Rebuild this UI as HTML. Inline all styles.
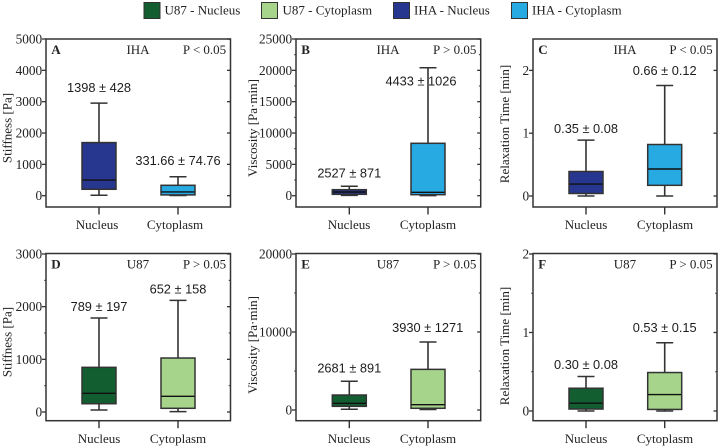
<!DOCTYPE html>
<html lang="en">
<head>
<meta charset="utf-8">
<title>Stiffness, viscosity and relaxation time box plots</title>
<style>
html,body{margin:0;padding:0;background:#fff;width:720px;height:448px;overflow:hidden}
svg{display:block;filter:blur(.3px)}
text{font-family:"Liberation Serif",serif;fill:#222}
.val{font-family:"Liberation Sans",sans-serif;font-size:12.8px;fill:#1c1c1c}
</style>
</head>
<body>
<svg id="chart" width="720" height="448" viewBox="0 0 720 448" xmlns="http://www.w3.org/2000/svg">
  <g>
    <g>
      <rect x="144" y="2.5" width="16" height="16" fill="#125e30" stroke="#333" stroke-width="1"/>
      <text x="164.5" y="14.5" font-size="13">U87 - Nucleus</text>
    </g>
    <g>
      <rect x="261.5" y="2.5" width="16" height="16" fill="#a6d48a" stroke="#333" stroke-width="1"/>
      <text x="282.5" y="14.5" font-size="13">U87 - Cytoplasm</text>
    </g>
    <g>
      <rect x="393.5" y="2.5" width="16" height="16" fill="#27378f" stroke="#333" stroke-width="1"/>
      <text x="414" y="14.5" font-size="13">IHA - Nucleus</text>
    </g>
    <g>
      <rect x="511.5" y="2.5" width="16" height="16" fill="#27a9e1" stroke="#333" stroke-width="1"/>
      <text x="532" y="14.5" font-size="13">IHA - Cytoplasm</text>
    </g>
  </g>
</svg>
<script>
// Data: each box is [whisker high, q3, median, q1, whisker low]
const categories = ['Nucleus', 'Cytoplasm'];

const stiffnessIhaNucleus = [2955, 1695, 500, 205, 15];
const stiffnessIhaCytoplasm = [605, 332, 120, 25, 5];
const viscosityIhaNucleus = [1500, 960, 590, 220, 60];
const viscosityIhaCytoplasm = [20420, 8360, 540, 160, 20];
const relaxationIhaNucleus = [0.89, 0.39, 0.19, 0.04, 0];
const relaxationIhaCytoplasm = [1.76, 0.82, 0.43, 0.17, 0];
const stiffnessU87Nucleus = [1784, 848, 355, 157, 38];
const stiffnessU87Cytoplasm = [2120, 1025, 298, 70, 6];
const viscosityU87Nucleus = [3680, 1920, 860, 470, 90];
const viscosityU87Cytoplasm = [8720, 5210, 680, 220, 60];
const relaxationU87Nucleus = [0.44, 0.29, 0.10, 0.025, 0];
const relaxationU87Cytoplasm = [0.87, 0.49, 0.21, 0.02, 0];

const stiffnessIhaLabels = ['1398 ± 428', '331.66 ± 74.76'];
const viscosityIhaLabels = ['2527 ± 871', '4433 ± 1026'];
const relaxationIhaLabels = ['0.35 ± 0.08', '0.66 ± 0.12'];
const stiffnessU87Labels = ['789 ± 197', '652 ± 158'];
const viscosityU87Labels = ['2681 ± 891', '3930 ± 1271'];
const relaxationU87Labels = ['0.30 ± 0.08', '0.53 ± 0.15'];

const stiffnessIhaTicks = [0, 1000, 2000, 3000, 4000, 5000];
const viscosityIhaTicks = [0, 5000, 10000, 15000, 20000, 25000];
const relaxationIhaTicks = [0, 1, 2];
const stiffnessU87Ticks = [0, 1000, 2000, 3000];
const viscosityU87Ticks = [0, 10000, 20000];
const relaxationU87Ticks = [0, 1, 2];

const viscosityIhaMinor = [2500, 7500, 12500, 17500, 22500];
const stiffnessU87Minor = [500, 1500, 2500];
const viscosityU87Minor = [5000, 15000];
const relaxationU87Minor = [0.5, 1.5];

const NS = 'http://www.w3.org/2000/svg';
const svg = document.getElementById('chart');
const INK = '#333333';
const MEDIAN = '#101010';
const IHA_FILLS = ['#27378f', '#27a9e1'];
const U87_FILLS = ['#125e30', '#a6d48a'];

const panels = [
  {id:'a', letter:'A', cell:'IHA', p:'P < 0.05', title:'Stiffness [Pa]', left:46, right:230.5, top:39, bottom:207, y0:195.7, yMax:5000, yTop:39,
   boxes:[stiffnessIhaNucleus, stiffnessIhaCytoplasm], labels:stiffnessIhaLabels, ticks:stiffnessIhaTicks, minor:[], fills:IHA_FILLS,
   cx:[99,178], catX:[97,175], catY:229, lx:[99,178], gap:[11,11.5], titleX:11.5, titleY:128, cellX:138},
  {id:'b', letter:'B', cell:'IHA', p:'P > 0.05', title:'Viscosity [Pa·min]', left:296, right:480.7, top:39, bottom:207, y0:195.7, yMax:25000, yTop:39,
   boxes:[viscosityIhaNucleus, viscosityIhaCytoplasm], labels:viscosityIhaLabels, ticks:viscosityIhaTicks, minor:viscosityIhaMinor, fills:IHA_FILLS,
   cx:[349.3,428], catX:[349,428], catY:229, lx:[349.3,421], gap:[9,-18], titleX:257, titleY:128, cellX:388},
  {id:'c', letter:'C', cell:'IHA', p:'P < 0.05', title:'Relaxation Time [min]', left:533, right:717, top:39, bottom:207, y0:196, yMax:2.5, yTop:39,
   boxes:[relaxationIhaNucleus, relaxationIhaCytoplasm], labels:relaxationIhaLabels, ticks:relaxationIhaTicks, minor:[], fills:IHA_FILLS,
   cx:[586,664.7], catX:[586,665], catY:229, lx:[586,664.7], gap:[7,10.5], titleX:509, titleY:124, cellX:625},
  {id:'d', letter:'D', cell:'U87', p:'P > 0.05', title:'Stiffness [Pa]', left:46, right:230.5, top:253.5, bottom:420.7, y0:412, yMax:3000, yTop:254,
   boxes:[stiffnessU87Nucleus, stiffnessU87Cytoplasm], labels:stiffnessU87Labels, ticks:stiffnessU87Ticks, minor:stiffnessU87Minor, fills:U87_FILLS,
   cx:[99,178], catX:[99,178], catY:443, lx:[99,178], gap:[7,7], titleX:11.5, titleY:342, cellX:138},
  {id:'e', letter:'E', cell:'U87', p:'P > 0.05', title:'Viscosity [Pa·min]', left:296, right:480.7, top:253.5, bottom:420.7, y0:410, yMax:20000, yTop:254,
   boxes:[viscosityU87Nucleus, viscosityU87Cytoplasm], labels:viscosityU87Labels, ticks:viscosityU87Ticks, minor:viscosityU87Minor, fills:U87_FILLS,
   cx:[349.3,428], catX:[349,428], catY:443, lx:[349.3,427.7], gap:[9,10], titleX:257, titleY:345, cellX:388},
  {id:'f', letter:'F', cell:'U87', p:'P > 0.05', title:'Relaxation Time [min]', left:533, right:717, top:253.5, bottom:420.7, y0:411, yMax:2, yTop:254,
   boxes:[relaxationU87Nucleus, relaxationU87Cytoplasm], labels:relaxationU87Labels, ticks:relaxationU87Ticks, minor:relaxationU87Minor, fills:U87_FILLS,
   cx:[586,664.7], catX:[586,665], catY:443, lx:[586,664.7], gap:[7.5,10.5], titleX:509, titleY:346, cellX:625}
];

function mk(tag, parent, attrs) {
  const el = document.createElementNS(NS, tag);
  for (const k in attrs) el.setAttribute(k, attrs[k]);
  parent.appendChild(el);
  return el;
}
function seg(parent, x1, y1, x2, y2, w) {
  return mk('line', parent, {x1:x1, y1:y1, x2:x2, y2:y2, stroke:INK, 'stroke-width':w});
}
function txt(parent, x, y, str, size, anchor) {
  const el = mk('text', parent, {x:x, y:y, 'font-size':size, 'text-anchor':anchor});
  el.textContent = str;
  return el;
}

panels.forEach(function (pn) {
  const yScale = function (v) { return pn.y0 - (pn.y0 - pn.yTop) * v / pn.yMax; };

  const g = mk('g', svg, {});
  
  

  // y ticks
  pn.ticks.forEach(function (t) {
    const y = yScale(t);
    const left = seg(g, pn.left - 4, y, pn.left, y, 1.3);
    
    
    const right = seg(g, pn.right - 3.5, y, pn.right, y, 1.3);
    
    
    const lab = txt(g, pn.left - 3.8, y + 4.5, String(t), 13.3, 'end');
    
    
  });
  pn.minor.forEach(function (t) {
    const y = yScale(t);
    const left = seg(g, pn.left - 1.8, y, pn.left, y, 1);
    
    
    const right = seg(g, pn.right - 1.8, y, pn.right, y, 1);
    
    
  });

  // plot frame
  const frame = mk('rect', g, {x:pn.left, y:pn.top, width:pn.right - pn.left, height:pn.bottom - pn.top, fill:'none', stroke:INK, 'stroke-width':1.5});
  
  

  // boxes
  pn.boxes.forEach(function (b, i) {
    const cx = pn.cx[i];
    const cat = categories[i].toLowerCase();
    const bg = mk('g', g, {});
    
    

    const whisker = seg(bg, cx, yScale(b[0]), cx, yScale(b[4]), 1.6);
    
    
    const capHigh = seg(bg, cx - 8.5, yScale(b[0]), cx + 8.5, yScale(b[0]), 1.5);
    
    
    const capLow = seg(bg, cx - 8.5, yScale(b[4]), cx + 8.5, yScale(b[4]), 1.5);
    
    

    const body = mk('rect', bg, {x:cx - 17, y:yScale(b[1]), width:34, height:yScale(b[3]) - yScale(b[1]), fill:pn.fills[i], stroke:INK, 'stroke-width':1.5});
    
    
    const med = mk('line', bg, {x1:cx - 16.5, y1:yScale(b[2]), x2:cx + 16.5, y2:yScale(b[2]), stroke:MEDIAN, 'stroke-width':1.4});
    
    

    const val = txt(g, pn.lx[i], yScale(b[0]) - pn.gap[i], pn.labels[i], 13, 'middle');
    val.setAttribute('class', 'val');
    
    

    const tick = seg(g, cx, pn.bottom, cx, pn.bottom + 7.5, 1.4);
    
    
    const catLab = txt(g, pn.catX[i], pn.catY, categories[i], 13, 'middle');
    
    
  });

  // annotations
  const base = pn.top + 15;
  const letter = txt(g, pn.left + 5.3, base, pn.letter, 13, 'start');
  letter.setAttribute('font-weight', 'bold');
  
  
  const cell = txt(g, pn.cellX, base, pn.cell, 13, 'middle');
  
  
  const pv = txt(g, pn.right - 4.3, base, pn.p, 13, 'end');
  
  

  const yt = txt(g, 0, 0, pn.title, 13, 'middle');
  yt.setAttribute('transform', 'translate(' + pn.titleX + ',' + pn.titleY + ') rotate(-90)');
  
  
});
</script>
</body>
</html>
